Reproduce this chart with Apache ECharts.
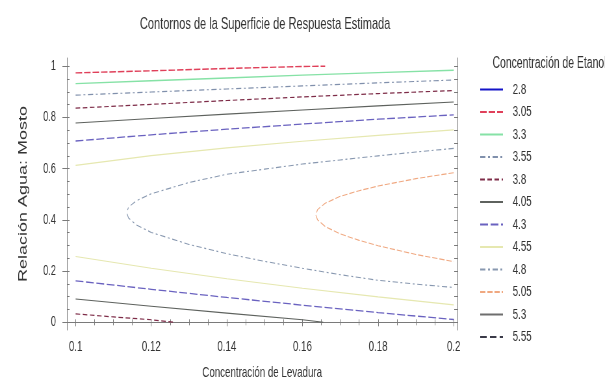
<!DOCTYPE html>
<html>
<head>
<meta charset="utf-8">
<script src="https://cdn.jsdelivr.net/npm/echarts@6/dist/echarts.min.js"></script>
<style>
  html, body { margin: 0; padding: 0; background: #fff; overflow: hidden; }
  /* the reference is squeezed sideways, so draw wider and scale down in x */
  #chart { width: 931px; height: 381px; transform: scaleX(0.6498); transform-origin: 0 0; }
</style>
</head>
<body>
<div id="chart"></div>
<script>
// contour levels (legend)
var levels = ['2.8', '3.05', '3.3', '3.55', '3.8', '4.05', '4.3', '4.55', '4.8', '5.05', '5.3', '5.55'];

// tick values
var xTicks = [0.1, 0.12, 0.14, 0.16, 0.18, 0.2];
var yTicks = [0, 0.2, 0.4, 0.6, 0.8, 1];
var xMinor = [0.1, 0.105, 0.11, 0.115, 0.12, 0.125, 0.13, 0.135, 0.14, 0.145, 0.15, 0.155, 0.16, 0.165, 0.17, 0.175, 0.18, 0.185, 0.19, 0.195, 0.2];
var yMinor = [0, 0.05, 0.1, 0.15, 0.2, 0.25, 0.3, 0.35, 0.4, 0.45, 0.5, 0.55, 0.6, 0.65, 0.7, 0.75, 0.8, 0.85, 0.9, 0.95, 1];

// contour lines [levadura, agua:mosto]
var c305 = [[0.1, 0.974], [0.12, 0.982], [0.14, 0.991], [0.16, 0.999], [0.166, 1.0]];
var c33 = [[0.1, 0.932], [0.12, 0.943], [0.14, 0.954], [0.16, 0.965], [0.18, 0.975], [0.2, 0.984]];
var c355 = [[0.1, 0.887], [0.12, 0.899], [0.14, 0.911], [0.16, 0.923], [0.18, 0.935], [0.2, 0.946]];
var c38Top = [[0.1, 0.836], [0.12, 0.851], [0.14, 0.866], [0.16, 0.880], [0.18, 0.893], [0.2, 0.905]];
var c38Low = [[0.1, 0.033], [0.11, 0.021], [0.12, 0.01], [0.126, 0.0]];
var c405Top = [[0.1, 0.778], [0.12, 0.796], [0.14, 0.813], [0.16, 0.829], [0.18, 0.845], [0.2, 0.86]];
var c405Low = [[0.1, 0.091], [0.12, 0.063], [0.14, 0.036], [0.16, 0.01], [0.1655, 0.0]];
var c43Top = [[0.1, 0.708], [0.12, 0.732], [0.14, 0.754], [0.16, 0.774], [0.18, 0.793], [0.2, 0.81]];
var c43Low = [[0.1, 0.162], [0.12, 0.129], [0.14, 0.097], [0.16, 0.067], [0.18, 0.038], [0.2, 0.011]];
var c455Top = [[0.1, 0.613], [0.12, 0.651], [0.14, 0.681], [0.16, 0.707], [0.18, 0.73], [0.2, 0.751]];
var c455Low = [[0.1, 0.257], [0.12, 0.211], [0.14, 0.170], [0.16, 0.133], [0.18, 0.099], [0.2, 0.068]];
var c48 = [[0.2, 0.679], [0.19, 0.665], [0.18, 0.650], [0.17, 0.634], [0.16, 0.618], [0.15, 0.598], [0.14, 0.578],
  [0.13, 0.546], [0.12, 0.502], [0.116, 0.474], [0.114, 0.45], [0.1135, 0.428], [0.114, 0.407], [0.116, 0.381],
  [0.12, 0.351], [0.13, 0.304], [0.14, 0.268], [0.15, 0.238], [0.16, 0.211], [0.17, 0.186], [0.18, 0.164],
  [0.19, 0.149], [0.2, 0.136]];
var c505 = [[0.2, 0.584], [0.19, 0.561], [0.18, 0.532], [0.175, 0.514], [0.17, 0.492], [0.166, 0.465], [0.164, 0.44],
  [0.1635, 0.42], [0.164, 0.400], [0.166, 0.374], [0.17, 0.345], [0.175, 0.32], [0.18, 0.299], [0.19, 0.265], [0.2, 0.237]];

var font = "'Liberation Sans', Arial, sans-serif";
var axisColor = '#7a7a7a';

function contour(name, data, color, width, dash) {
  return {
    name: name,
    type: 'line',
    data: data,
    symbol: 'none',
    showSymbol: false,
    silent: true,
    clip: true,
    lineStyle: { color: color, width: width, type: dash },
    itemStyle: { color: color }
  };
}

var myChart = echarts.init(document.getElementById('chart'), null, { renderer: 'canvas' });

var option = {
  backgroundColor: '#fff',
  animation: false,
  textStyle: { fontFamily: font },
  graphic: [
    {
      type: 'text', x: 408, y: 24,
      style: { text: 'Contornos de la Superficie de Respuesta Estimada', fontSize: 17, fontFamily: font, fill: '#333',
        textAlign: 'center', textVerticalAlign: 'middle' }
    },
    {
      type: 'text', x: 758, y: 64,
      style: { text: 'Concentración de Etanol', fontSize: 16, fontFamily: font, fill: '#333',
        textAlign: 'left', textVerticalAlign: 'middle' }
    }
  ],
  legend: {
    orient: 'vertical',
    left: 733,
    top: 77,
    itemWidth: 35,
    itemHeight: 14,
    itemGap: 7.5,
    data: levels,
    itemStyle: { opacity: 0 },
    textStyle: { fontSize: 15, fontFamily: font, color: '#333', lineHeight: 14, padding: [0, 0, 0, 10] }
  },
  grid: { left: 103, right: 227, top: 58, bottom: 51, outerBoundsMode: 'none', containLabel: false },
  xAxis: [
    {
      type: 'value', position: 'bottom', min: 0.0977, max: 0.201,
      name: 'Concentración de Levadura', nameLocation: 'middle', nameGap: 35,
      nameTextStyle: { fontSize: 15, color: '#333', fontFamily: font },
      axisLine: { show: true, lineStyle: { color: axisColor } },
      axisTick: { show: true, customValues: xTicks, length: 4, lineStyle: { color: axisColor } },
      axisLabel: { customValues: xTicks, margin: 9, fontSize: 15, color: '#333', fontFamily: font,
        formatter: function (v) { return String(+v.toFixed(2)); } },
      splitLine: { show: false }
    },
    {
      type: 'value', position: 'bottom', min: 0.0977, max: 0.201,
      axisLine: { show: false },
      axisTick: { show: true, inside: true, customValues: xMinor, length: 3, lineStyle: { color: axisColor } },
      axisLabel: { show: false },
      splitLine: { show: false }
    },
    {
      type: 'value', position: 'top', min: 0.0977, max: 0.201,
      axisLine: { show: true, lineStyle: { color: axisColor } },
      axisTick: { show: true, inside: true, customValues: xMinor, length: 3, lineStyle: { color: axisColor } },
      axisLabel: { show: false },
      splitLine: { show: false }
    }
  ],
  yAxis: [
    {
      type: 'value', position: 'left', min: -0.03, max: 1.032,
      name: 'Relación Agua: Mosto', nameLocation: 'middle', nameGap: 58, nameRotate: 90,
      nameTextStyle: { fontSize: 18, color: '#333', fontFamily: font },
      axisLine: { show: true, lineStyle: { color: axisColor } },
      axisTick: { show: true, customValues: yTicks, length: 7, lineStyle: { color: axisColor } },
      axisLabel: { customValues: yTicks, margin: 17, fontSize: 14, color: '#333', fontFamily: font,
        formatter: function (v) { return String(+v.toFixed(1)); } },
      splitLine: { show: false }
    },
    {
      type: 'value', position: 'left', min: -0.03, max: 1.032,
      axisLine: { show: false },
      axisTick: { show: true, inside: true, customValues: yMinor, length: 4, lineStyle: { color: axisColor } },
      axisLabel: { show: false },
      splitLine: { show: false }
    },
    {
      type: 'value', position: 'right', min: -0.03, max: 1.032,
      axisLine: { show: true, lineStyle: { color: axisColor } },
      axisTick: { show: true, inside: true, customValues: yMinor, length: 5, lineStyle: { color: axisColor } },
      axisLabel: { show: false },
      splitLine: { show: false }
    }
  ],
  series: [
    contour('2.8', [], '#1414c8', 3, 'solid'),
    contour('3.05', c305, '#e0405a', 1.4, [10, 3]),
    contour('3.3', c33, '#86e2a6', 1.4, 'solid'),
    contour('3.55', c355, '#8090ac', 1.1, [8, 4, 3, 4]),
    contour('3.8', c38Top, '#7e2c48', 1.2, [7, 4]),
    contour('3.8', c38Low, '#7e2c48', 1.2, [7, 4]),
    contour('4.05', c405Top, '#5e625e', 1.1, 'solid'),
    contour('4.05', c405Low, '#5e625e', 1.1, 'solid'),
    contour('4.3', c43Top, '#6a62c0', 1.3, [12, 4]),
    contour('4.3', c43Low, '#6a62c0', 1.3, [12, 4]),
    contour('4.55', c455Top, '#e6e8b0', 1.2, 'solid'),
    contour('4.55', c455Low, '#e6e8b0', 1.2, 'solid'),
    contour('4.8', c48, '#8898b0', 1.1, [8, 4, 3, 4]),
    contour('5.05', c505, '#f0a880', 1.1, [8, 3]),
    contour('5.3', [], '#6e6e6e', 2.4, 'solid'),
    contour('5.55', [], '#3a3a48', 1.3, [10, 5])
  ]
};

myChart.setOption(option, true);
</script>
</body>
</html>
